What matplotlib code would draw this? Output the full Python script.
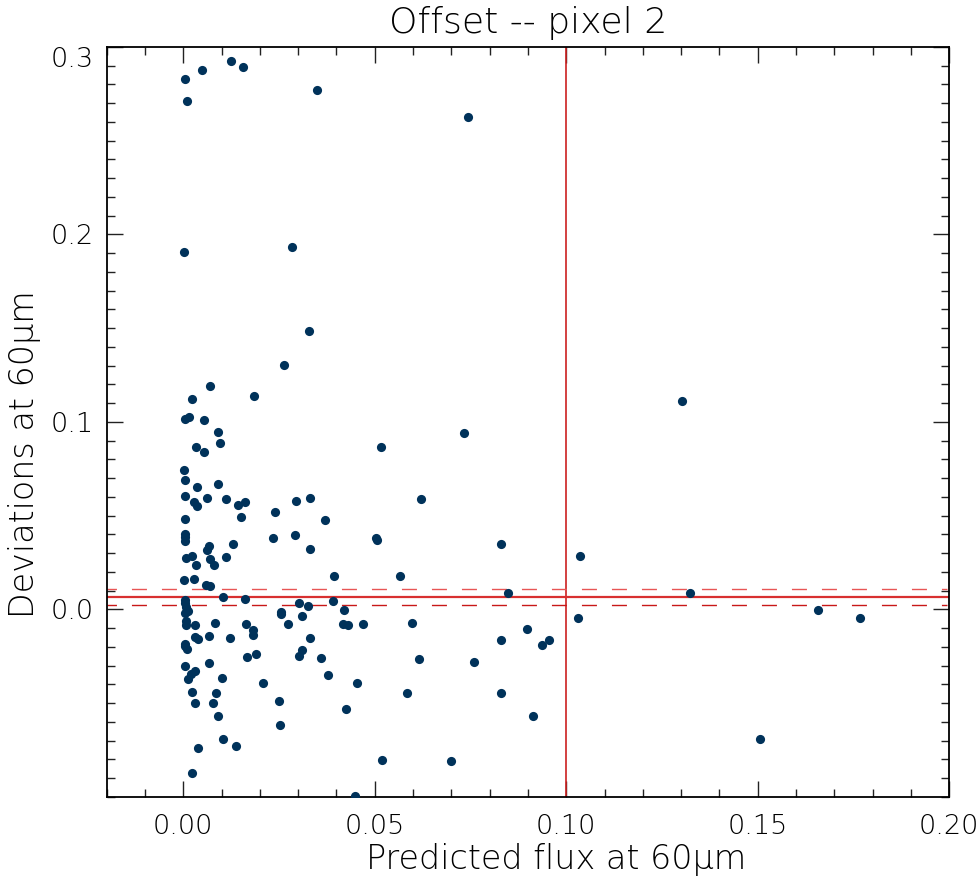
import matplotlib
matplotlib.use("Agg")
import matplotlib.pyplot as plt
from matplotlib.ticker import MultipleLocator
from matplotlib import font_manager

# predicted flux at 60um vs deviations, offset pixel 2
flux = [0.0004, 0.0050, 0.0125, 0.0156, 0.0349, 0.0009, 0.0003, 0.0284, 0.0743, 0.0327,
        0.0264, 0.0069, 0.0185, 0.0024, 0.0005, 0.0016, 0.0054, 0.0090, 0.0096, 0.0033,
        0.0054, 0.0516, 0.1302, 0.0733, 0.0003, 0.0004, 0.0037, 0.0090, 0.0004, 0.0063,
        0.0112, 0.0027, 0.0035, 0.0144, 0.0161, 0.0294, 0.0332, 0.0620, 0.0239, 0.0151,
        0.0004, 0.0371, 0.0005, 0.0005, 0.0005, 0.0233, 0.0293, 0.0503, 0.0505, 0.0131,
        0.0068, 0.0062, 0.0330, 0.0829, 0.1037, 0.0007, 0.0024, 0.0071, 0.0111, 0.0032,
        0.0079, 0.0003, 0.0029, 0.0058, 0.0071, 0.0393, 0.0565, 0.0103, 0.0161, 0.0005,
        0.0005, 0.0007, 0.0012, 0.0005, 0.0006, 0.0007, 0.0031, 0.0082, 0.0302, 0.0326,
        0.0391, 0.0254, 0.0254, 0.0311, 0.0419, 0.0418, 0.0430, 0.0469, 0.0163, 0.0181,
        0.0182, 0.0273, 0.0030, 0.0039, 0.0067, 0.0123, 0.0330, 0.0005, 0.0005, 0.0009,
        0.0310, 0.0301, 0.0167, 0.0191, 0.0359, 0.0005, 0.0067, 0.0030, 0.0019, 0.0011,
        0.0101, 0.0377, 0.0207, 0.0453, 0.0024, 0.0086, 0.0031, 0.0077, 0.0251, 0.0091,
        0.0424, 0.0252, 0.0103, 0.0137, 0.0039, 0.0520, 0.0024, 0.0448, 0.0848, 0.1031,
        0.0597, 0.0898, 0.0829, 0.0937, 0.0955, 0.0616, 0.0758, 0.0585, 0.0829, 0.0912,
        0.0699, 0.1324, 0.1657, 0.1767, 0.1505]

deviation = [0.2828, 0.2878, 0.2926, 0.2894, 0.2771, 0.2709, 0.1907, 0.1934, 0.2624, 0.1483,
             0.1301, 0.1193, 0.1136, 0.1120, 0.1013, 0.1024, 0.1008, 0.0946, 0.0887, 0.0864,
             0.0841, 0.0866, 0.1109, 0.0939, 0.0741, 0.0688, 0.0654, 0.0670, 0.0604, 0.0592,
             0.0590, 0.0571, 0.0553, 0.0555, 0.0574, 0.0578, 0.0592, 0.0590, 0.0521, 0.0492,
             0.0483, 0.0476, 0.0400, 0.0384, 0.0363, 0.0379, 0.0398, 0.0378, 0.0370, 0.0347,
             0.0338, 0.0316, 0.0322, 0.0351, 0.0284, 0.0272, 0.0284, 0.0268, 0.0277, 0.0235,
             0.0238, 0.0156, 0.0163, 0.0131, 0.0126, 0.0176, 0.0179, 0.0064, 0.0053, 0.0050,
             0.0032, 0.0014, -0.0011, -0.0018, -0.0064, -0.0084, -0.0084, -0.0071, 0.0034, 0.0016,
             0.0044, -0.0016, -0.0025, -0.0036, -0.0004, -0.0078, -0.0084, -0.0077, -0.0080, -0.0110,
             -0.0137, -0.0077, -0.0149, -0.0160, -0.0144, -0.0153, -0.0155, -0.0185, -0.0196, -0.0210,
             -0.0215, -0.0247, -0.0253, -0.0237, -0.0260, -0.0302, -0.0286, -0.0327, -0.0347, -0.0370,
             -0.0366, -0.0352, -0.0391, -0.0391, -0.0443, -0.0445, -0.0500, -0.0500, -0.0489, -0.0567,
             -0.0533, -0.0615, -0.0692, -0.0727, -0.0740, -0.0804, -0.0875, -0.0996, 0.0087, -0.0045,
             -0.0071, -0.0107, -0.0165, -0.0189, -0.0164, -0.0267, -0.0279, -0.0446, -0.0445, -0.0571,
             -0.0809, 0.0087, -0.0005, -0.0048, -0.0692]

flux_cut = 0.10
mean_dev = 0.0066
upper_dev = 0.0110
lower_dev = 0.0021

# thin font like the IDL vector font, if the ExtraLight face is there
names = [f.name + '|' + str(f.weight) for f in font_manager.fontManager.ttflist if 'DejaVu Sans' == f.name]
has_light = any(not w.endswith('400') and not w.endswith('700') for w in names)
if has_light:
    plt.rcParams['font.family'] = ['DejaVu Sans']
    wt = 200
else:
    plt.rcParams['font.family'] = ['Roboto', 'DejaVu Sans']
    wt = 'light'
plt.rcParams['font.weight'] = wt

fig = plt.figure(figsize=(9.8, 8.8), dpi=100)
ax = fig.add_axes([0.1089, 0.0945, 0.8596, 0.8523])

ax.plot(flux, deviation, 'o', color='#00325a', markersize=6.6, markeredgewidth=0, zorder=3)

ax.axvline(flux_cut, color='#cc2020', linewidth=1.2, zorder=2)
ax.axhline(mean_dev, color='#d83030', linewidth=1.6, zorder=2)
ax.axhline(upper_dev, xmax=0.998, color='#e85555', linewidth=1.0, linestyle=(4, (10.8, 10.8)), zorder=2)
ax.axhline(lower_dev, xmax=0.998, color='#c81818', linewidth=1.0, linestyle=(4, (10.8, 10.8)), zorder=2)

ax.set_xlim(-0.02, 0.20)
ax.set_ylim(-0.1, 0.3)
ax.set_xticks([0.0, 0.05, 0.10, 0.15, 0.20])
ax.set_xticklabels(['0.00', '0.05', '0.10', '0.15', '0.20'], fontweight=wt)
ax.set_yticks([0.0, 0.1, 0.2, 0.3])
ax.set_yticklabels(['0.0', '0.1', '0.2', '0.3'], fontweight=wt)
ax.get_yticklabels()[-1].set_va('top')
ax.xaxis.set_minor_locator(MultipleLocator(0.01))
ax.yaxis.set_minor_locator(MultipleLocator(0.01))
ax.tick_params(which='both', direction='in', top=True, right=True, width=1.0, color='#222222')
ax.tick_params(which='major', length=11.5)
ax.tick_params(which='minor', length=5.8)
ax.tick_params(axis='x', pad=12, labelsize=19.5)
ax.tick_params(axis='y', pad=9, labelsize=19.5)
for s in ax.spines.values():
    s.set_linewidth(1.3)

ax.set_title('Offset -- pixel 2', fontsize=26, fontweight=wt, pad=10)
ax.set_xlabel('Predicted flux at 60μm', fontsize=24, fontweight=wt)
ax.set_ylabel('Deviations at 60μm', fontsize=24, fontweight=wt)
ax.xaxis.set_label_coords(0.533, -0.062)
ax.yaxis.set_label_coords(-0.078, 0.457)

fig.savefig('out.png', dpi=100)
